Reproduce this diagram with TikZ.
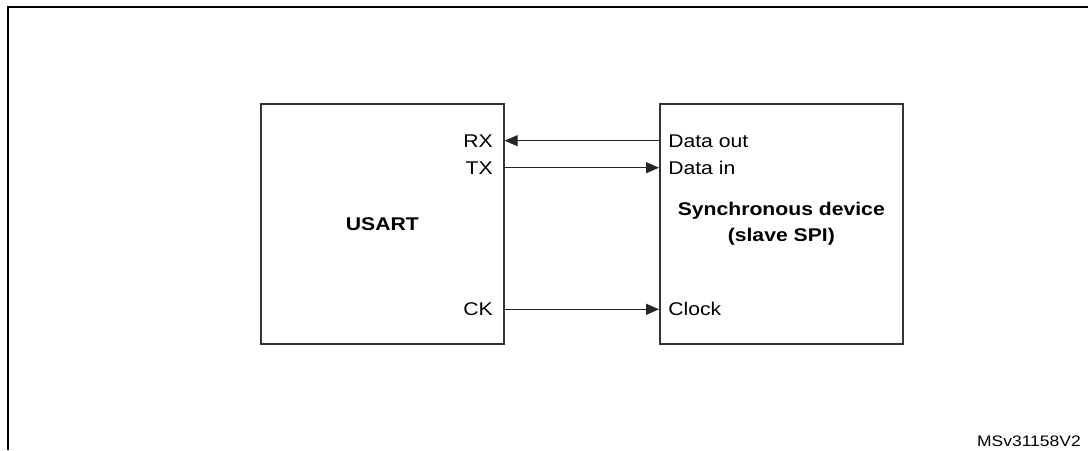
\documentclass[tikz,border=0pt]{standalone}
\usepackage{fontspec}
\setmainfont[FakeStretch=1.15]{Liberation Sans}
\usetikzlibrary{arrows.meta}
\begin{document}
\begin{tikzpicture}[x=0.75pt,y=-0.75pt,
  blockbox/.style={draw=black!80,line width=1.2pt,minimum width=243*0.75pt,minimum height=240*0.75pt,inner sep=0pt,anchor=north west},
  pinlabel/.style={inner sep=0pt,font=\fontsize{13.8}{16}\selectfont,text height=9.9pt,text depth=0pt,text=black},
  title/.style={font=\bfseries\fontsize{13.8}{19.5}\selectfont,align=center,text=black},
  sig/.style={draw=black!85,line width=0.9pt,-{Triangle[length=13*0.75pt,width=11*0.75pt]}}]
\useasboundingbox (0,0) rectangle (1088,450);
\draw[line width=1.6pt] (8.3,450) -- (8.3,6.8) -- (1088,6.8);
\node[blockbox] (usart) at (260,103) {};
\node[blockbox] (dev) at (659,103) {};
\node[title] (ut) at (usart.center) {USART};
\node[title] (dt) at (dev.center) {Synchronous device\\(slave SPI)};
\node[pinlabel,anchor=east] (rx) at (493,140.7) {RX};
\node[pinlabel,anchor=east] (tx) at (493,167.7) {TX};
\node[pinlabel,anchor=east] (ck) at (493,309.3) {CK};
\node[pinlabel,anchor=west] (dout) at (668,140.7) {Data out};
\node[pinlabel,anchor=west] (din) at (668,167.7) {Data in};
\node[pinlabel,anchor=west] (clk) at (668,309.3) {Clock};
\draw[sig] (dev.west |- dout) -- (usart.east |- rx);
\draw[sig] (usart.east |- tx) -- (dev.west |- din);
\draw[sig] (usart.east |- ck) -- (dev.west |- clk);
\node[inner sep=0pt,anchor=east,font=\fontsize{11.4}{13}\selectfont,text height=8.1pt,text depth=0pt,text=black] (ref) at (1081,441) {MSv31158V2};
\end{tikzpicture}
\end{document}
